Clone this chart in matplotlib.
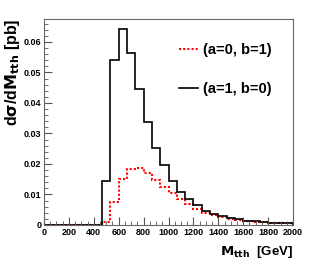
import numpy as np
import matplotlib.pyplot as plt
from matplotlib.ticker import MultipleLocator, FuncFormatter

plt.rcParams['font.family'] = ['Liberation Sans', 'DejaVu Sans']

# 30 bins from 0 to 2000 GeV
edges = np.linspace(0, 2000, 31)
black_vals = [0, 0, 0, 0, 0, 0, 0,
              0.0144, 0.0542, 0.0643, 0.0563, 0.0446, 0.0337, 0.0251,
              0.0198, 0.0144, 0.0109, 0.0085, 0.0066, 0.0047, 0.0036,
              0.0031, 0.0024, 0.0019, 0.0014, 0.0012, 0.0010, 0.0008,
              0.0006, 0.0005]
red_vals = [0, 0, 0, 0, 0, 0, 0,
            0.0009, 0.0076, 0.0150, 0.0184, 0.0188, 0.0170, 0.0148,
            0.0126, 0.0104, 0.0084, 0.0069, 0.0054, 0.0040, 0.0033,
            0.0025, 0.0021, 0.0018, 0.0013, 0.0011, 0.0009, 0.0007,
            0.0006, 0.0005]

fig = plt.figure(figsize=(3.15, 2.66), dpi=100)
ax = fig.add_axes([44 / 315, 41 / 266, 249 / 315, 206 / 266])

ax.stairs(red_vals, edges, color='red', linestyle=(0, (1, 1)), linewidth=1.5,
          label='(a=0, b=1)')
ax.stairs(black_vals, edges, color='black', linewidth=1.2, label='(a=1, b=0)')

ax.set_xlim(0, 2000)
ax.set_ylim(0, 0.0675)

ax.xaxis.set_major_locator(MultipleLocator(200))
ax.xaxis.set_minor_locator(MultipleLocator(50))
ax.yaxis.set_major_locator(MultipleLocator(0.01))
ax.yaxis.set_minor_locator(MultipleLocator(0.002))
ax.yaxis.set_major_formatter(FuncFormatter(lambda v, p: '0' if v == 0 else f'{v:.2f}'))

ax.tick_params(which='both', direction='in', top=False, right=False,
               labelsize=6.5, pad=2, color='#555555')
ax.tick_params(which='major', length=6)
ax.tick_params(which='minor', length=3)
for lab in ax.get_xticklabels() + ax.get_yticklabels():
    lab.set_fontweight('bold')
for sp in ax.spines.values():
    sp.set_color('#666666')
    sp.set_linewidth(0.8)

ax.set_xlabel(r'$\mathbf{M_{tth}}$  [GeV]', fontsize=9.5, fontweight='bold',
              loc='right', labelpad=5)
ax.set_ylabel(r'd$\mathbf{\sigma}$/d$\mathbf{M_{tth}}$ [pb]', fontsize=11.5,
              fontweight='bold', loc='top', labelpad=1)

ax.legend(loc='upper left', bbox_to_anchor=(0.488, 0.945), frameon=False,
          handlelength=1.3, handletextpad=0.35, labelspacing=1.7,
          prop={'weight': 'bold', 'size': 10.5})

fig.savefig('out.png', dpi=100)
